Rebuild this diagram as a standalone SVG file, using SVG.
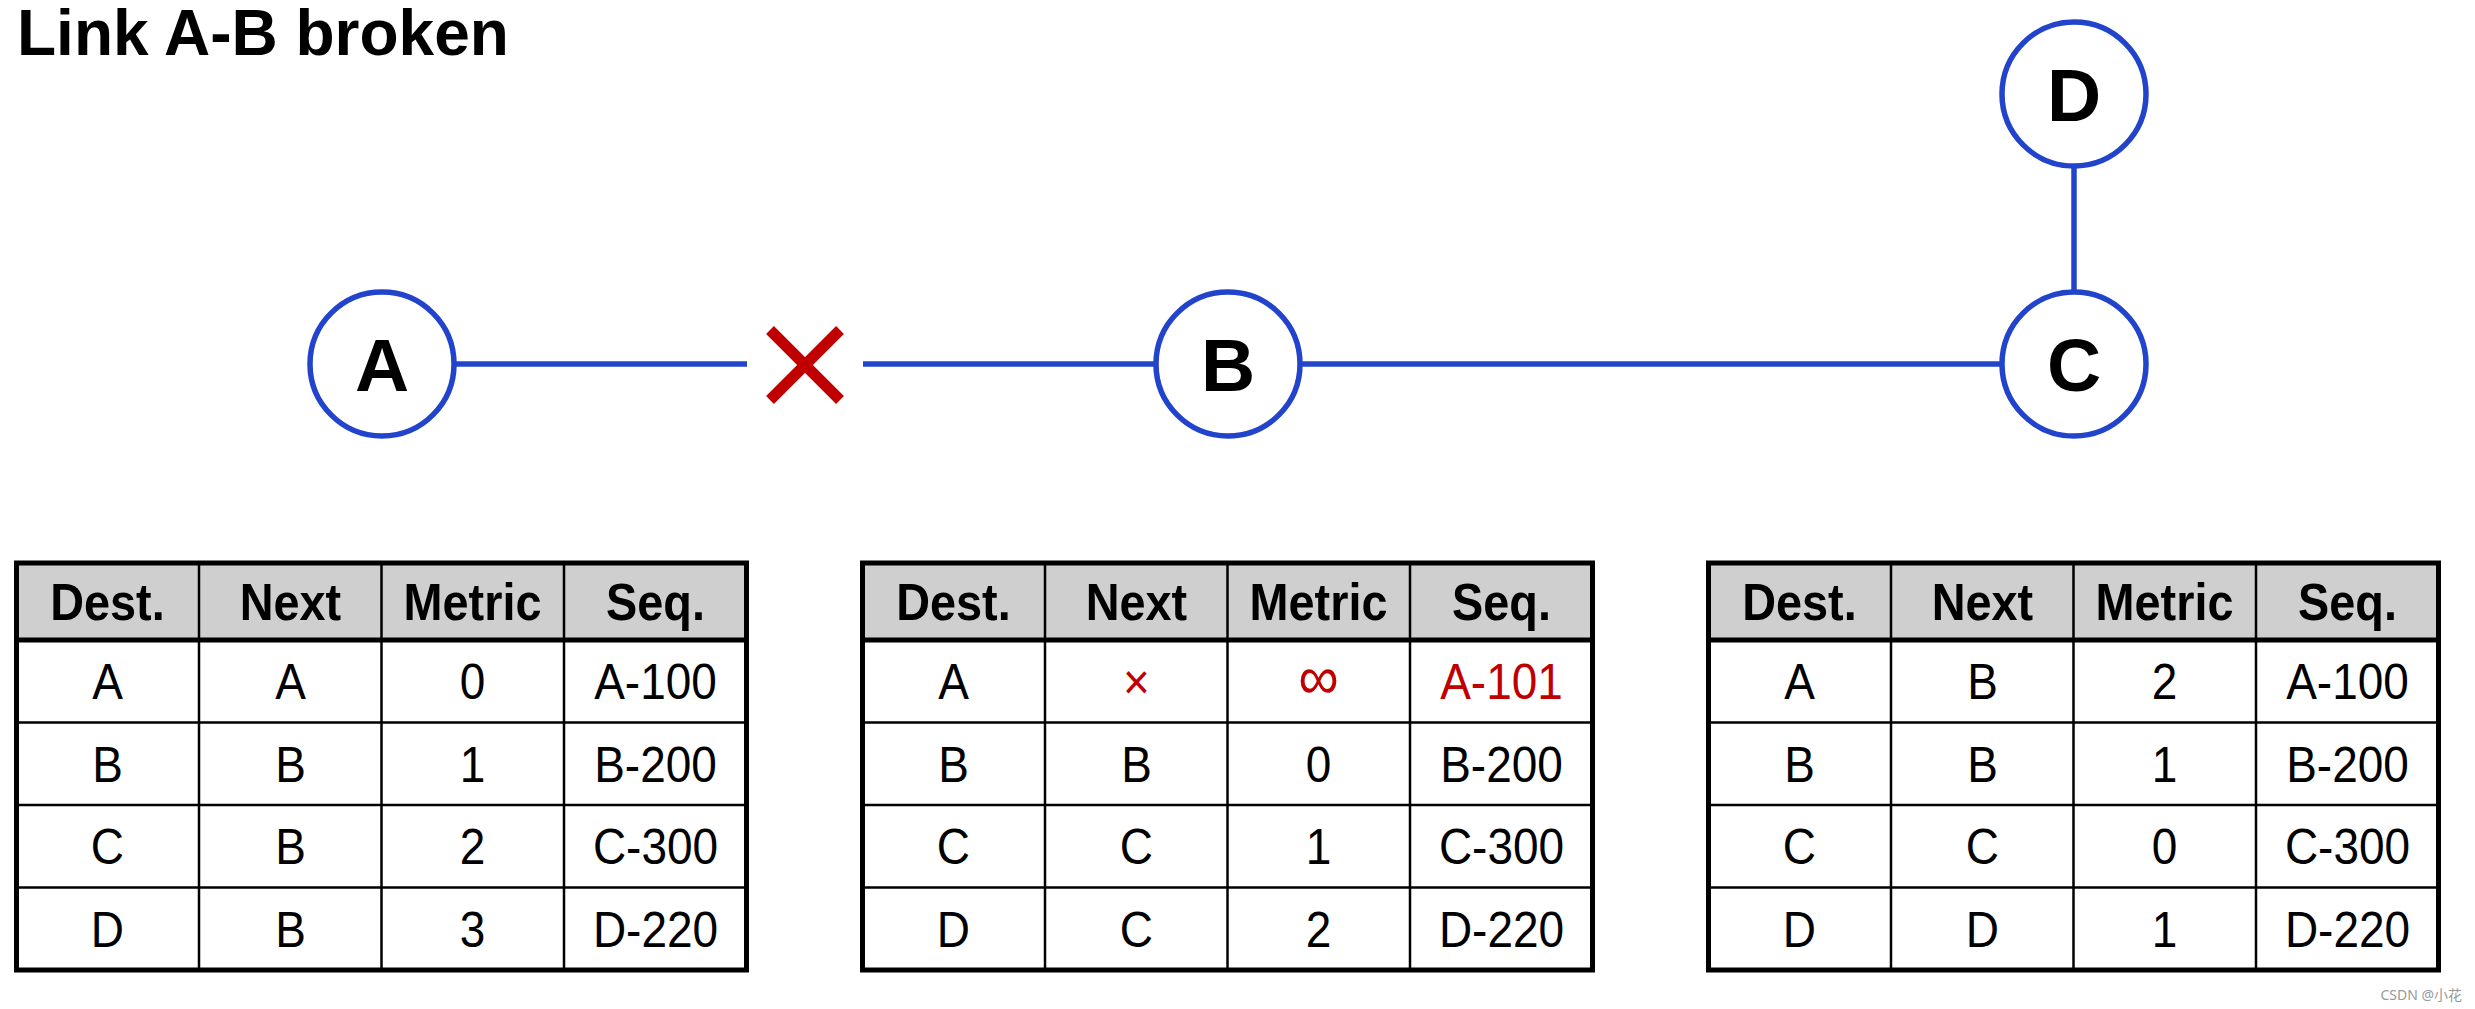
<svg xmlns="http://www.w3.org/2000/svg" width="2475" height="1009" viewBox="0 0 2475 1009">
<style>
.node{fill:#fff;stroke:#2244CC;stroke-width:5.5}
.nlabel{font-family:"Liberation Sans",Arial,sans-serif;font-weight:bold;font-size:75px;text-anchor:middle;fill:#000}
.link{stroke:#2244CC;stroke-width:5.5;fill:none}
.hdr{fill:#D0CFD0}
.outer{fill:none;stroke:#000;stroke-width:5}
.grid{stroke:#000;stroke-width:2.5;fill:none}
.hline{stroke:#000;stroke-width:5}
.ht{font-family:"Liberation Sans",Arial,sans-serif;font-weight:bold;font-size:52px;text-anchor:middle;fill:#000}
.bt{font-family:"Liberation Sans",Arial,sans-serif;font-size:50px;text-anchor:middle;fill:#000}
.red{fill:#C00000}
</style>
<rect width="2475" height="1009" fill="#fff"/>
<text x="17" y="55" font-family="Liberation Sans, Arial, sans-serif" font-weight="bold" font-size="64" fill="#000">Link A-B broken</text>

<g id="connectors">
<line class="link" x1="454" y1="364" x2="747" y2="364"/>
<line class="link" x1="863" y1="364" x2="1156" y2="364"/>
<line class="link" x1="1300" y1="364" x2="2002" y2="364"/>
<line class="link" x1="2074" y1="166" x2="2074" y2="292"/>
</g>
<g id="break-mark" stroke="#C00000" stroke-width="11">
<line x1="770" y1="330" x2="840" y2="400"/>
<line x1="840" y1="330" x2="770" y2="400"/>
</g>

<g id="node-A"><circle class="node" cx="382" cy="364" r="72"/><text class="nlabel" x="382" y="391">A</text></g>
<g id="node-B"><circle class="node" cx="1228" cy="364" r="72"/><text class="nlabel" x="1228" y="391">B</text></g>
<g id="node-C"><circle class="node" cx="2074" cy="364" r="72"/><text class="nlabel" x="2074" y="391">C</text></g>
<g id="node-D"><circle class="node" cx="2074" cy="94" r="72"/><text class="nlabel" x="2074" y="121">D</text></g>

<defs>
<g id="tframe">
<rect class="hdr" x="0" y="0" width="730" height="77"/>
<line class="grid" x1="182.5" y1="0" x2="182.5" y2="407"/>
<line class="grid" x1="365" y1="0" x2="365" y2="407"/>
<line class="grid" x1="547.5" y1="0" x2="547.5" y2="407"/>
<line class="grid" x1="0" y1="159.5" x2="730" y2="159.5"/>
<line class="grid" x1="0" y1="242" x2="730" y2="242"/>
<line class="grid" x1="0" y1="324.5" x2="730" y2="324.5"/>
<line class="hline" x1="0" y1="77" x2="730" y2="77"/>
<rect class="outer" x="0" y="0" width="730" height="407"/>
<text class="ht" transform="translate(91,57) scale(0.9,1)">Dest.</text>
<text class="ht" transform="translate(274,57) scale(0.9,1)">Next</text>
<text class="ht" transform="translate(456,57) scale(0.9,1)">Metric</text>
<text class="ht" transform="translate(639,57) scale(0.9,1)">Seq.</text>
</g>
</defs>

<g id="table-A" transform="translate(16.5,563)">
<use href="#tframe"/>
<g class="bt" transform="scale(0.92,1)">
<text x="98.9" y="136">A</text><text x="297.8" y="136">A</text><text x="495.7" y="136">0</text><text x="694.6" y="136">A-100</text>
<text x="98.9" y="219">B</text><text x="297.8" y="219">B</text><text x="495.7" y="219">1</text><text x="694.6" y="219">B-200</text>
<text x="98.9" y="301">C</text><text x="297.8" y="301">B</text><text x="495.7" y="301">2</text><text x="694.6" y="301">C-300</text>
<text x="98.9" y="384">D</text><text x="297.8" y="384">B</text><text x="495.7" y="384">3</text><text x="694.6" y="384">D-220</text>
</g>
</g>

<g id="table-B" transform="translate(862.5,563)">
<use href="#tframe"/>
<g class="bt" transform="scale(0.92,1)">
<text x="98.9" y="136">A</text><text class="red" x="297.8" y="136">×</text><text class="red" x="495.7" y="136" font-size="62">∞</text><text class="red" x="694.6" y="136">A-101</text>
<text x="98.9" y="219">B</text><text x="297.8" y="219">B</text><text x="495.7" y="219">0</text><text x="694.6" y="219">B-200</text>
<text x="98.9" y="301">C</text><text x="297.8" y="301">C</text><text x="495.7" y="301">1</text><text x="694.6" y="301">C-300</text>
<text x="98.9" y="384">D</text><text x="297.8" y="384">C</text><text x="495.7" y="384">2</text><text x="694.6" y="384">D-220</text>
</g>
</g>

<g id="table-C" transform="translate(1708.5,563)">
<use href="#tframe"/>
<g class="bt" transform="scale(0.92,1)">
<text x="98.9" y="136">A</text><text x="297.8" y="136">B</text><text x="495.7" y="136">2</text><text x="694.6" y="136">A-100</text>
<text x="98.9" y="219">B</text><text x="297.8" y="219">B</text><text x="495.7" y="219">1</text><text x="694.6" y="219">B-200</text>
<text x="98.9" y="301">C</text><text x="297.8" y="301">C</text><text x="495.7" y="301">0</text><text x="694.6" y="301">C-300</text>
<text x="98.9" y="384">D</text><text x="297.8" y="384">D</text><text x="495.7" y="384">1</text><text x="694.6" y="384">D-220</text>
</g>
</g>

<text x="2462" y="1000" font-family="Noto Sans, Noto Sans CJK SC, sans-serif" font-size="14" fill="#999" text-anchor="end">CSDN @小花</text>
</svg>
